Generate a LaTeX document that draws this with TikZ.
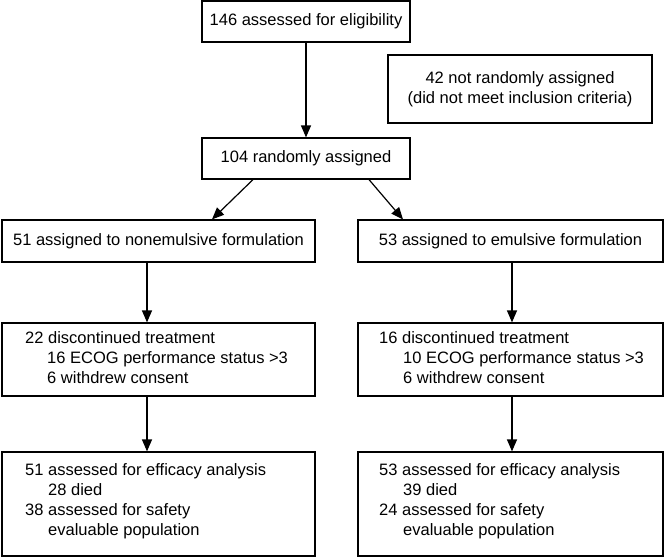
\documentclass[tikz,border=0pt]{standalone}
\usepackage{fontspec}
\setmainfont{Liberation Sans}
\usetikzlibrary{arrows.meta}
\begin{document}
\begin{tikzpicture}[x=1pt,y=-1pt,
  box/.style={draw=black, line width=1.2pt, inner sep=0pt},
  txt/.style={font=\fontsize{16.5}{20}\selectfont, inner sep=0pt, align=left},
  ctxt/.style={font=\fontsize{16.5}{20}\selectfont, align=center},
  arr/.style={line width=1.2pt, -{Triangle[width=10pt,length=12pt]}}]
\useasboundingbox (0,0) rectangle (665,557);
\node[box, ctxt, minimum width=208pt, minimum height=41pt] (elig) at (306,21.5) {146 assessed for eligibility};
\node[box, ctxt, minimum width=264pt, minimum height=68pt] (excl) at (520,89) {42 not randomly assigned\\(did not meet inclusion criteria)};
\node[box, ctxt, minimum width=208pt, minimum height=41pt] (rand) at (306,158.5) {104 randomly assigned};
\node[box, ctxt, minimum width=313pt, minimum height=42pt] (nonem) at (158.5,241) {51 assigned to nonemulsive formulation};
\node[box, ctxt, minimum width=305pt, minimum height=42pt] (emul) at (510.5,241) {53 assigned to emulsive formulation};
\node[box, minimum width=313pt, minimum height=73pt] (discL) at (158.5,359.5) {};
\node[box, minimum width=305pt, minimum height=73pt] (discR) at (510.5,359.5) {};
\node[box, minimum width=313pt, minimum height=104pt] (effL) at (158.5,504) {};
\node[box, minimum width=305pt, minimum height=104pt] (effR) at (510.5,504) {};
\node[txt, anchor=west] (discLt) at (25,358) {22 discontinued treatment\\\hspace*{22pt}16 ECOG performance status >3\\\hspace*{22pt}6 withdrew consent};
\node[txt, anchor=west] (discRt) at (379,358) {16 discontinued treatment\\\hspace*{24pt}10 ECOG performance status >3\\\hspace*{24pt}6 withdrew consent};
\node[txt, anchor=west] (effLt) at (25,501.5) {51 assessed for efficacy analysis\\\hspace*{23pt}28 died\\38 assessed for safety\\\hspace*{23pt}evaluable population};
\node[txt, anchor=west] (effRt) at (379,501.5) {53 assessed for efficacy analysis\\\hspace*{24pt}39 died\\24 assessed for safety\\\hspace*{24pt}evaluable population};
\draw[arr] (elig) -- (rand);
\draw[arr] ([xshift=-53pt]rand.south) -- ([xshift=53.5pt]nonem.north);
\draw[arr] ([xshift=63pt]rand.south) -- ([xshift=-107.5pt]emul.north);
\draw[arr] ([xshift=-11.5pt]nonem.south) -- ([xshift=-11.5pt]discL.north);
\draw[arr] ([xshift=1.5pt]emul.south) -- ([xshift=1.5pt]discR.north);
\draw[arr] ([xshift=-11.5pt]discL.south) -- ([xshift=-11.5pt]effL.north);
\draw[arr] ([xshift=1.5pt]discR.south) -- ([xshift=1.5pt]effR.north);
\end{tikzpicture}
\end{document}
